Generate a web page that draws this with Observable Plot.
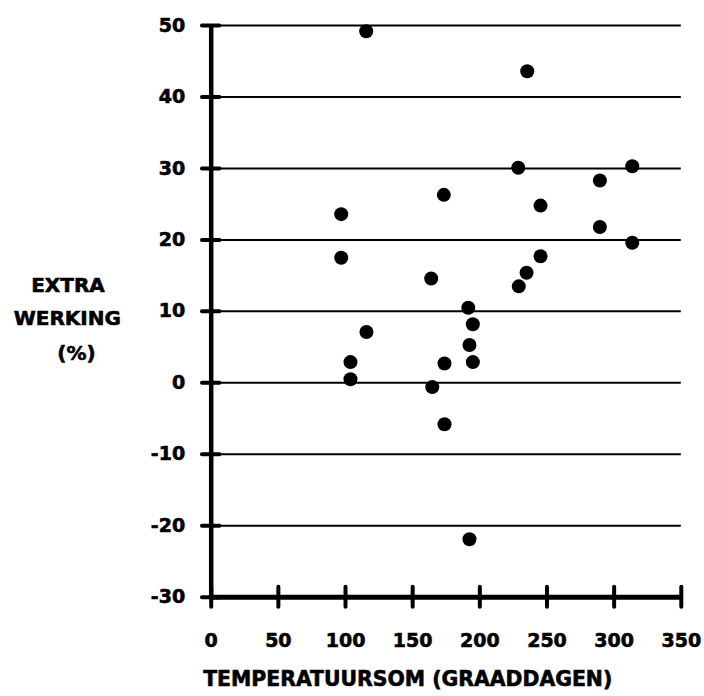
<!DOCTYPE html>
<html>
<head>
<meta charset="utf-8">
<script src="https://cdn.jsdelivr.net/npm/d3@7"></script>
<script src="https://cdn.jsdelivr.net/npm/@observablehq/plot@0.6"></script>
<style>
  html, body { margin: 0; padding: 0; background: #fff; }
  svg text { stroke: #000; stroke-width: 0.6px; paint-order: stroke; }
</style>
</head>
<body>
<div id="chart"></div>
<script>
// Temperatuursom (graaddagen)
const temperatuursom = [115.4, 235.3, 228.6, 313.5, 289.4, 173.2, 245.2, 96.8, 289.4, 313.5, 96.8, 245.2, 234.8, 163.8, 229.0, 191.4, 194.8, 115.6, 192.3, 103.7, 194.8, 173.7, 103.7, 164.6, 173.7, 192.3];
// Extra werking (%)
const extraWerking = [49.2, 43.6, 30.1, 30.3, 28.3, 26.3, 24.8, 23.6, 21.8, 19.6, 17.5, 17.7, 15.4, 14.6, 13.5, 10.5, 8.2, 7.1, 5.3, 2.9, 2.9, 2.7, 0.5, -0.6, -5.8, -21.9];
const xTicks = [0, 50, 100, 150, 200, 250, 300, 350];
const yTicks = [-30, -20, -10, 0, 10, 20, 30, 40, 50];
const yTitleLines = ["EXTRA", "WERKING", "(%)"];
const xTitle = "TEMPERATUURSOM (GRAADDAGEN)";

const points = temperatuursom.map((t, i) => ({x: t, y: extraWerking[i]}));
const font = "'DejaVu Sans', sans-serif";

const chart = Plot.plot({
  width: 704,
  height: 696,
  marginLeft: 210.7,
  marginRight: 23.2,
  marginTop: 25,
  marginBottom: 99.3,
  style: {fontFamily: font, fontSize: "19px", fontWeight: "bold", background: "#fff", color: "#000"},
  x: {domain: [0, 350]},
  y: {domain: [-30, 50]},
  marks: [
    // gridlines
    Plot.ruleY(yTicks.filter(d => d > -30), {x1: 0, x2: 350, stroke: "#000", strokeWidth: 2}),
    // axis lines
    Plot.ruleX([0], {y1: -30, y2: 50, stroke: "#000", strokeWidth: 4.5}),
    Plot.ruleY([-30], {x1: 0, x2: 350, stroke: "#000", strokeWidth: 5}),
    // y tick marks (crossing the axis)
    Plot.ruleY(yTicks, {x1: -6.5, x2: 6.5, stroke: "#000", strokeWidth: 4, strokeLinecap: "round"}),
    // x tick marks (crossing the axis)
    Plot.ruleX(xTicks, {y1: -31.4, y2: -28.6, stroke: "#000", strokeWidth: 4, strokeLinecap: "round"}),
    Plot.axisY(yTicks, {tickSize: 0, tickPadding: 26, tickFormat: d => String(d), label: null, fontSize: 19, fontWeight: "bold"}),
    Plot.axisX(xTicks, {tickSize: 0, tickPadding: 36, tickFormat: d => String(d), label: null, fontSize: 19, fontWeight: "bold"}),
    // dots
    Plot.dot(points, {x: "x", y: "y", r: 7, fill: "#000", stroke: "none"}),
    // y title
    Plot.text([yTitleLines[0]], {frameAnchor: "top-left", dx: -143.2, dy: 252.5, text: d => d, fontSize: 20, fontWeight: "bold", textAnchor: "middle"}),
    Plot.text([yTitleLines[1]], {frameAnchor: "top-left", dx: -143.9, dy: 285, text: d => d, fontSize: 20, fontWeight: "bold", textAnchor: "middle"}),
    Plot.text([yTitleLines[2]], {frameAnchor: "top-left", dx: -134.7, dy: 320, text: d => d, fontSize: 20, fontWeight: "bold", textAnchor: "middle"}),
    // x title
    Plot.text([xTitle], {frameAnchor: "bottom-left", dx: -8, dy: 89, text: d => d, fontSize: 20.4, fontWeight: "bold", textAnchor: "start"})
  ]
});
document.getElementById("chart").appendChild(chart);
</script>
</body>
</html>
